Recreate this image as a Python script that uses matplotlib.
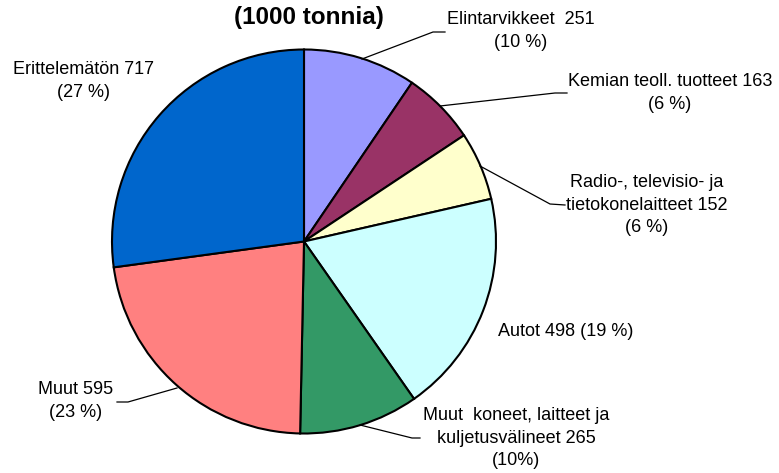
import matplotlib
matplotlib.use("Agg")
import matplotlib.pyplot as plt

plt.rcParams['font.family'] = ['Liberation Sans', 'DejaVu Sans']

categories = ["Elintarvikkeet", "Kemian teoll. tuotteet", "Radio-, televisio- ja tietokonelaitteet",
              "Autot", "Muut koneet, laitteet ja kuljetusvälineet", "Muut", "Erittelemätön"]
values = [251, 163, 152, 498, 265, 595, 717]
colors = ["#9999FF", "#993366", "#FFFFCC", "#CCFFFF", "#339966", "#FF8080", "#0066CC"]
label_texts = [
    "Elintarvikkeet  251\n(10 %)",
    "Kemian teoll. tuotteet 163\n(6 %)",
    "Radio-, televisio- ja\ntietokonelaitteet 152\n(6 %)",
    "Autot 498 (19 %)",
    "Muut  koneet, laitteet ja\nkuljetusvälineet 265\n(10%)",
    "Muut 595\n(23 %)",
    "Erittelemätön 717\n(27 %)",
]
title = "(1000 tonnia)"

W, H = 779, 473
fig = plt.figure(figsize=(W / 100, H / 100), dpi=100)
ax = fig.add_axes([0, 0, 1, 1])
ax.set_xlim(0, W)
ax.set_ylim(0, H)
ax.set_aspect('equal')
ax.axis('off')

def Y(y):
    return H - y

cx, cy, r = 304, 241.5, 192
ax.pie(values, colors=colors, startangle=90, counterclock=False,
       center=(cx, Y(cy)), radius=r,
       wedgeprops=dict(edgecolor='black', linewidth=1.5))
ax.set_xlim(0, W)
ax.set_ylim(0, H)

fs = 13
# label positions (center x, center y of text block) in image pixels
label_pos = [(521, 31), (670, 93), (647, 205), (566, 331), (516, 438), (76, 401), (84, 81)]
# leader lines in image pixels
leaders = [
    [(362, 59), (433, 32), (445, 32)],
    [(440, 106), (555, 93), (567, 93)],
    [(480, 166), (550, 204), (565, 205)],
    None,
    [(360, 425), (412, 438), (420, 438)],
    [(177, 388), (128, 402), (117, 402)],
    None,
]

for txt, (x, y), ld in zip(label_texts, label_pos, leaders):
    ax.text(x, Y(y), txt, ha='center', va='center', fontsize=fs,
            linespacing=1.45, color='black')
    if ld:
        ax.plot([p[0] for p in ld], [Y(p[1]) for p in ld], color='black', linewidth=0.9)

ax.text(309, Y(18), title, ha='center', va='center', fontsize=17.5, fontweight='bold')

fig.savefig("out.png", dpi=100)
